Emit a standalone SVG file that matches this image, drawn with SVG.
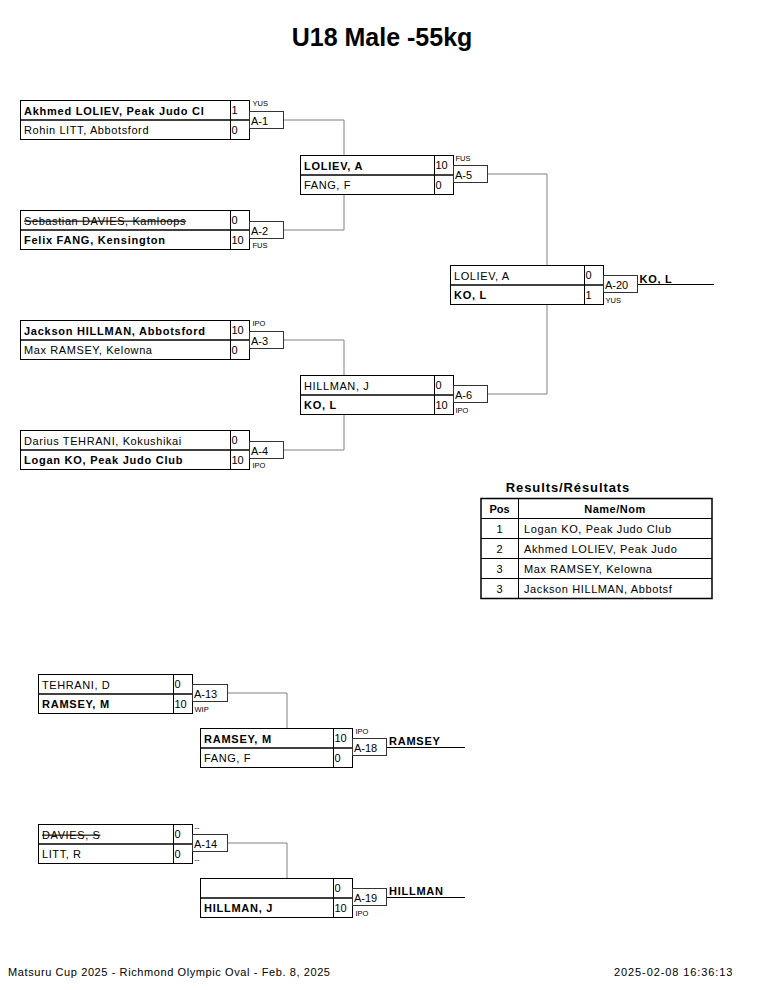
<svg xmlns="http://www.w3.org/2000/svg" width="765" height="990" viewBox="0 0 765 990">
<style>
text{font-family:"Liberation Sans",Arial,sans-serif;fill:#000}
.bx{fill:#fff;stroke:#000;stroke-width:1}
.dv{stroke:#000;stroke-width:1.5}
.lb{fill:#fff;stroke:#333;stroke-width:1}
.cn{fill:none;stroke:#808080;stroke-width:1}
.wl{fill:none;stroke:#000;stroke-width:1}
.nm{font-size:11px;letter-spacing:0.6px}
.nb{font-size:11px;letter-spacing:0.75px;font-weight:bold}
.sc{font-size:11px}
.ml{font-size:11px}
.sm{font-size:7.5px}
.st{text-decoration:line-through}
.tb{fill:none;stroke:#000;stroke-width:1}
.tbo{fill:none;stroke:#000;stroke-width:1.5}
</style>
<rect width="765" height="990" fill="#fff"/>
<text x="382" y="46" text-anchor="middle" font-size="25" font-weight="bold">U18 Male -55kg</text>

<g id="connectors">
<polyline class="cn" points="284,120 344,120 344,155"/>
<polyline class="cn" points="284,230 344,230 344,194"/>
<polyline class="cn" points="487,174 547,174 547,265"/>
<polyline class="cn" points="284,340 344,340 344,375"/>
<polyline class="cn" points="284,450 344,450 344,414"/>
<polyline class="cn" points="487,394 547,394 547,304"/>
<line class="wl" x1="637" y1="284.5" x2="714" y2="284.5"/>
<polyline class="cn" points="228,693 287,693 287,728"/>
<line class="wl" x1="387" y1="747.5" x2="465" y2="747.5"/>
<polyline class="cn" points="228,843 287,843 287,878"/>
<line class="wl" x1="387" y1="897.5" x2="465" y2="897.5"/>
</g>

<g id="m-a1" transform="translate(20.5,100.5)">
<rect class="bx" x="0" y="0" width="210" height="39"/><rect class="bx" x="210" y="0" width="19" height="39"/>
<line class="dv" x1="0" y1="19.5" x2="229" y2="19.5"/>
<rect class="lb" x="229" y="11" width="34" height="17"/>
<text class="nb" x="3.5" y="14">Akhmed LOLIEV, Peak Judo Cl</text>
<text class="nm" x="3.5" y="33">Rohin LITT, Abbotsford</text>
<text class="sc" x="211" y="13">1</text><text class="sc" x="211" y="33">0</text>
<text class="ml" x="230.5" y="24">A-1</text>
<text class="sm" x="232" y="5">YUS</text>
</g>
<g id="m-a2" transform="translate(20.5,210.5)">
<rect class="bx" x="0" y="0" width="210" height="39"/><rect class="bx" x="210" y="0" width="19" height="39"/>
<line class="dv" x1="0" y1="19.5" x2="229" y2="19.5"/>
<rect class="lb" x="229" y="11" width="34" height="17"/>
<text class="nm st" x="3.5" y="14">Sebastian DAVIES, Kamloops</text>
<text class="nb" x="3.5" y="33">Felix FANG, Kensington</text>
<text class="sc" x="211" y="13">0</text><text class="sc" x="211" y="33">10</text>
<text class="ml" x="230.5" y="24">A-2</text>
<text class="sm" x="232" y="37">FUS</text>
</g>
<g id="m-a3" transform="translate(20.5,320.5)">
<rect class="bx" x="0" y="0" width="210" height="39"/><rect class="bx" x="210" y="0" width="19" height="39"/>
<line class="dv" x1="0" y1="19.5" x2="229" y2="19.5"/>
<rect class="lb" x="229" y="11" width="34" height="17"/>
<text class="nb" x="3.5" y="14">Jackson HILLMAN, Abbotsford</text>
<text class="nm" x="3.5" y="33">Max RAMSEY, Kelowna</text>
<text class="sc" x="211" y="13">10</text><text class="sc" x="211" y="33">0</text>
<text class="ml" x="230.5" y="24">A-3</text>
<text class="sm" x="232" y="5">IPO</text>
</g>
<g id="m-a4" transform="translate(20.5,430.5)">
<rect class="bx" x="0" y="0" width="210" height="39"/><rect class="bx" x="210" y="0" width="19" height="39"/>
<line class="dv" x1="0" y1="19.5" x2="229" y2="19.5"/>
<rect class="lb" x="229" y="11" width="34" height="17"/>
<text class="nm" x="3.5" y="14">Darius TEHRANI, Kokushikai</text>
<text class="nb" x="3.5" y="33">Logan KO, Peak Judo Club</text>
<text class="sc" x="211" y="13">0</text><text class="sc" x="211" y="33">10</text>
<text class="ml" x="230.5" y="24">A-4</text>
<text class="sm" x="232" y="37">IPO</text>
</g>

<g id="m-a5" transform="translate(300.5,155.5)">
<rect class="bx" x="0" y="0" width="134" height="39"/><rect class="bx" x="134" y="0" width="19" height="39"/>
<line class="dv" x1="0" y1="19.5" x2="153" y2="19.5"/>
<rect class="lb" x="153" y="10" width="34" height="17"/>
<text class="nb" x="3.5" y="14">LOLIEV, A</text>
<text class="nm" x="3.5" y="33">FANG, F</text>
<text class="sc" x="135" y="13">10</text><text class="sc" x="135" y="33">0</text>
<text class="ml" x="154.5" y="23">A-5</text>
<text class="sm" x="155" y="5">FUS</text>
</g>
<g id="m-a6" transform="translate(300.5,375.5)">
<rect class="bx" x="0" y="0" width="134" height="39"/><rect class="bx" x="134" y="0" width="19" height="39"/>
<line class="dv" x1="0" y1="19.5" x2="153" y2="19.5"/>
<rect class="lb" x="153" y="10" width="34" height="17"/>
<text class="nm" x="3.5" y="14">HILLMAN, J</text>
<text class="nb" x="3.5" y="33">KO, L</text>
<text class="sc" x="135" y="13">0</text><text class="sc" x="135" y="33">10</text>
<text class="ml" x="154.5" y="23">A-6</text>
<text class="sm" x="155" y="37">IPO</text>
</g>
<g id="m-a20" transform="translate(450.5,265.5)">
<rect class="bx" x="0" y="0" width="134" height="39"/><rect class="bx" x="134" y="0" width="19" height="39"/>
<line class="dv" x1="0" y1="19.5" x2="153" y2="19.5"/>
<rect class="lb" x="153" y="10" width="34" height="17"/>
<text class="nm" x="3.5" y="14">LOLIEV, A</text>
<text class="nb" x="3.5" y="33">KO, L</text>
<text class="sc" x="135" y="13">0</text><text class="sc" x="135" y="33">1</text>
<text class="ml" x="154.5" y="23">A-20</text>
<text class="sm" x="155" y="37">YUS</text>
<text class="nb" x="189" y="17">KO, L</text>
</g>

<g id="results">
<text x="568" y="492" text-anchor="middle" font-size="13" font-weight="bold" letter-spacing="0.9">Results/Résultats</text>
<rect class="tbo" x="481" y="498.5" width="231" height="100"/>
<line class="tb" x1="481" y1="518.5" x2="712" y2="518.5"/>
<line class="tb" x1="481" y1="538.5" x2="712" y2="538.5"/>
<line class="tb" x1="481" y1="558.5" x2="712" y2="558.5"/>
<line class="tb" x1="481" y1="578.5" x2="712" y2="578.5"/>
<line class="tb" x1="518.5" y1="498.5" x2="518.5" y2="598.5"/>
<text x="499.5" y="513" text-anchor="middle" font-size="11" font-weight="bold">Pos</text>
<text x="615" y="513" text-anchor="middle" font-size="11" font-weight="bold" letter-spacing="0.5">Name/Nom</text>
<text x="499.5" y="533" text-anchor="middle" class="sc">1</text>
<text x="499.5" y="553" text-anchor="middle" class="sc">2</text>
<text x="499.5" y="573" text-anchor="middle" class="sc">3</text>
<text x="499.5" y="593" text-anchor="middle" class="sc">3</text>
<text class="nm" x="524" y="533">Logan KO, Peak Judo Club</text>
<text class="nm" x="524" y="553">Akhmed LOLIEV, Peak Judo</text>
<text class="nm" x="524" y="573">Max RAMSEY, Kelowna</text>
<text class="nm" x="524" y="593">Jackson HILLMAN, Abbotsf</text>
</g>

<g id="m-a13" transform="translate(38.5,674.5)">
<rect class="bx" x="0" y="0" width="135" height="39"/><rect class="bx" x="135" y="0" width="19" height="39"/>
<line class="dv" x1="0" y1="19.5" x2="154" y2="19.5"/>
<rect class="lb" x="154" y="10" width="35" height="17"/>
<text class="nm" x="3.5" y="14">TEHRANI, D</text>
<text class="nb" x="3.5" y="33">RAMSEY, M</text>
<text class="sc" x="136" y="13">0</text><text class="sc" x="136" y="33">10</text>
<text class="ml" x="155.5" y="23">A-13</text>
<text class="sm" x="156" y="37">WIP</text>
</g>
<g id="m-a18" transform="translate(200.5,728.5)">
<rect class="bx" x="0" y="0" width="133" height="39"/><rect class="bx" x="133" y="0" width="19" height="39"/>
<line class="dv" x1="0" y1="19.5" x2="152" y2="19.5"/>
<rect class="lb" x="152" y="10" width="34" height="17"/>
<text class="nb" x="3.5" y="14">RAMSEY, M</text>
<text class="nm" x="3.5" y="33">FANG, F</text>
<text class="sc" x="134" y="13">10</text><text class="sc" x="134" y="33">0</text>
<text class="ml" x="153.5" y="23">A-18</text>
<text class="sm" x="155" y="5">IPO</text>
<text class="nb" x="188.5" y="16">RAMSEY</text>
</g>
<g id="m-a14" transform="translate(38.5,824.5)">
<rect class="bx" x="0" y="0" width="135" height="39"/><rect class="bx" x="135" y="0" width="19" height="39"/>
<line class="dv" x1="0" y1="19.5" x2="154" y2="19.5"/>
<rect class="lb" x="154" y="10" width="35" height="17"/>
<text class="nm st" x="3.5" y="14">DAVIES, S</text>
<text class="nm" x="3.5" y="33">LITT, R</text>
<text class="sc" x="136" y="13">0</text><text class="sc" x="136" y="33">0</text>
<text class="ml" x="155.5" y="23">A-14</text>
<text class="sm" x="156" y="5">--</text>
<text class="sm" x="156" y="37">--</text>
</g>
<g id="m-a19" transform="translate(200.5,878.5)">
<rect class="bx" x="0" y="0" width="133" height="39"/><rect class="bx" x="133" y="0" width="19" height="39"/>
<line class="dv" x1="0" y1="19.5" x2="152" y2="19.5"/>
<rect class="lb" x="152" y="10" width="34" height="17"/>
<text class="nb" x="3.5" y="33">HILLMAN, J</text>
<text class="sc" x="134" y="13">0</text><text class="sc" x="134" y="33">10</text>
<text class="ml" x="153.5" y="23">A-19</text>
<text class="sm" x="155" y="37">IPO</text>
<text class="nb" x="188.5" y="16">HILLMAN</text>
</g>

<text x="8" y="976" font-size="11" textLength="322" lengthAdjust="spacing">Matsuru Cup 2025 - Richmond Olympic Oval - Feb. 8, 2025</text>
<text x="614" y="976" font-size="11" letter-spacing="0.9">2025-02-08 16:36:13</text>
</svg>
